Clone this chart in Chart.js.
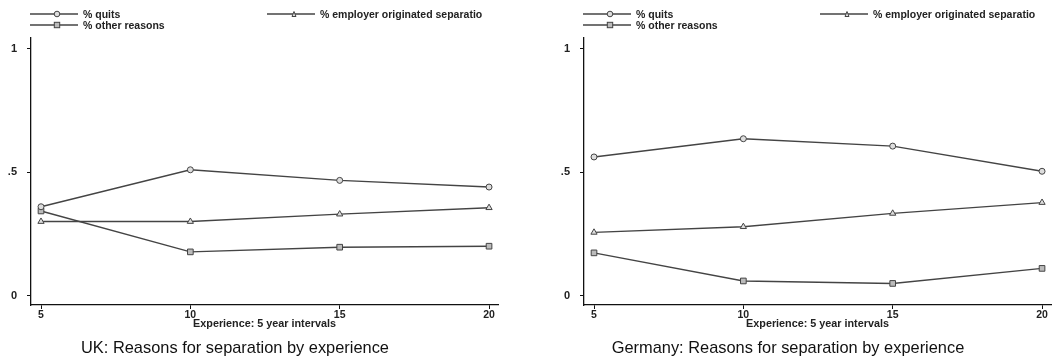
<!DOCTYPE html>
<html>
<head>
<meta charset="utf-8">
<script src="https://cdn.jsdelivr.net/npm/chart.js@4.4.1/dist/chart.umd.min.js"></script>
<style>
  body { margin: 0; background: #fff; width: 1055px; height: 360px; overflow: hidden; font-family: "Liberation Sans", Arial, sans-serif; }
  .panel { position: absolute; top: 0; width: 505px; height: 360px; }
  .panel canvas { position: absolute; left: 0; top: 0; }
  .leg { position: absolute; height: 12px; font-size: 10.5px; font-weight: bold; color: #222; line-height: 12px; white-space: nowrap; }
  .leg svg { position: absolute; left: 0; top: 0; }
  .leg span { position: absolute; top: 0; }
  .ttl { position: absolute; left: 0; width: 470px; top: 338px; text-align: center; font-size: 16.4px; line-height: 18px; color: #111; }
</style>
</head>
<body>
<div class="panel" id="uk"><canvas id="ukChart" width="505" height="360"></canvas></div>
<div class="panel" id="de" style="left:553px"><canvas id="deChart" width="505" height="360"></canvas></div>
<script>
// eje X
var experience = [5, 10, 15, 20]
var xTicks = [5, 10, 15, 20]
// eje Y
var yTicks = [0, 0.5, 1]
var yTickLabels = ['0', '.5', '1']

var seriesNames = ['% quits', '% employer originated separatio', '% other reasons']

var ukQuits = [0.36, 0.51, 0.467, 0.44]
var ukEmployer = [0.30, 0.30, 0.33, 0.356]
var ukOther = [0.343, 0.177, 0.196, 0.20]

var deQuits = [0.562, 0.636, 0.606, 0.504]
var deEmployer = [0.256, 0.279, 0.333, 0.377]
var deOther = [0.173, 0.059, 0.049, 0.110]

var lineColor = '#444'
var styles = ['circle', 'triangle', 'rect']
var radius = [3, 3.6, 4]

function markerSvg(style) {
  var m = ''
  if (style == 'circle') m = '<circle cx="27" cy="6" r="2.8" fill="#ddd" stroke="#444" stroke-width="1"/>'
  if (style == 'triangle') m = '<polygon points="25,8.5 29,8.5 27,3.5" fill="#ddd" stroke="#444" stroke-width="1"/>'
  if (style == 'rect') m = '<rect x="24.3" y="3.3" width="5.4" height="5.4" fill="#bbb" stroke="#444" stroke-width="1"/>'
  return '<svg width="48" height="12"><line x1="0" y1="6" x2="48" y2="6" stroke="#444" stroke-width="1.3"/>' + m + '</svg>'
}

function legendItem(panel, i, left, top) {
  var d = document.createElement('div')
  d.className = 'leg'
  d.style.left = left + 'px'
  d.style.top = top + 'px'
  d.style.width = '240px'
  d.innerHTML = markerSvg(styles[i]) + '<span style="left:53px">' + seriesNames[i] + '</span>'
  panel.appendChild(d)
}

function makePanel(id, title, quits, employer, other) {
  var panel = document.getElementById(id)
  legendItem(panel, 0, 30, 8)
  legendItem(panel, 1, 267, 8)
  legendItem(panel, 2, 30, 19)
  var t = document.createElement('div')
  t.className = 'ttl'
  t.textContent = title
  panel.appendChild(t)

  var values = [quits, employer, other]
  var datasets = []
  for (var i = 0; i < values.length; i++) {
    var pts = []
    for (var j = 0; j < experience.length; j++) {
      pts.push({x: experience[j], y: values[i][j]})
    }
    datasets.push({
      label: seriesNames[i],
      data: pts,
      borderColor: lineColor,
      borderWidth: 1.4,
      pointStyle: styles[i],
      pointRadius: radius[i],
      pointBorderWidth: 1,
      pointBorderColor: '#444',
      pointBackgroundColor: i == 2 ? '#bbb' : '#ddd',
      tension: 0
    })
  }

  var ctx = document.getElementById(id + 'Chart').getContext('2d')
  return new Chart(ctx, {
    type: 'line',
    data: { datasets: datasets },
    options: {
      responsive: false,
      animation: false,
      layout: { padding: { top: 38, right: 7, left: 0, bottom: 29 } },
      plugins: { legend: { display: false }, tooltip: { enabled: false } },
      scales: {
        x: {
          type: 'linear',
          min: 4.665,
          max: 20.3,
          afterBuildTicks: function(s) { s.ticks = xTicks.map(function(v) { return {value: v} }) },
          afterFit: function(s) { s.height = 26 },
          grid: { drawOnChartArea: false, tickLength: 4, color: '#111', tickWidth: 1 },
          border: { color: '#111', width: 1.3 },
          ticks: { color: '#222', padding: 0, maxRotation: 0, font: { family: 'Liberation Sans', size: 10.5, weight: 'bold' } },
          title: { display: true, text: 'Experience: 5 year intervals', color: '#222', padding: 0, font: { family: 'Liberation Sans', size: 10.8, weight: 'bold' } }
        },
        y: {
          min: -0.0385,
          max: 1.0446,
          afterBuildTicks: function(s) { s.ticks = yTicks.map(function(v) { return {value: v} }) },
          afterFit: function(s) { s.width = 31 },
          grid: { drawOnChartArea: false, tickLength: 4, color: '#111', tickWidth: 1 },
          border: { color: '#111', width: 1.3 },
          ticks: {
            color: '#222',
            padding: 10,
            font: { family: 'Liberation Sans', size: 11, weight: 'bold' },
            callback: function(v) { return yTickLabels[yTicks.indexOf(v)] }
          }
        }
      }
    }
  })
}

makePanel('uk', 'UK: Reasons for separation by experience', ukQuits, ukEmployer, ukOther)
makePanel('de', 'Germany: Reasons for separation by experience', deQuits, deEmployer, deOther)
</script>
</body>
</html>
